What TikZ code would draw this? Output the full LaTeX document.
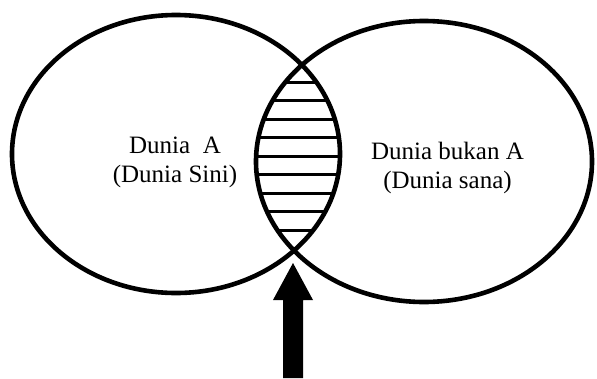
\documentclass[tikz,border=0pt]{standalone}
\usepackage{fontspec}
\setmainfont{Liberation Serif}
\begin{document}
\begin{tikzpicture}[x=1pt,y=-1pt,
  outline/.style={line width=4.6pt,draw=black},
  hatch/.style={line width=3pt,draw=black},
  label/.style={font=\fontsize{25}{29}\selectfont,align=center,inner sep=0pt}]
\useasboundingbox (0,0) rectangle (597,378);
\coordinate (cl) at (176,154);
\coordinate (cr) at (424,161.5);
% hatching in the lens
\begin{scope}
  \clip (cl) ellipse [x radius=164pt, y radius=139pt];
  \clip (cr) ellipse [x radius=168pt, y radius=140.5pt];
  \foreach \yy in {82,100.5,119,137.5,156,174.5,193,211.5,230}
    \draw[hatch] (240,\yy) -- (360,\yy);
\end{scope}
\draw[outline] (cl) ellipse [x radius=164pt, y radius=139pt];
\draw[outline] (cr) ellipse [x radius=168pt, y radius=140.5pt];
\node[label] (ta) at (175,162) {Dunia\ \ A\\(Dunia Sini)};
\node[label] (tb) at (447.5,168) {Dunia bukan A\\(Dunia sana)};
% arrow
\coordinate (tip) at (293,263);
\fill (tip) -- (313,300) -- (303,300) -- (303,378) -- (283,378) -- (283,300) -- (273,300) -- cycle;
\end{tikzpicture}
\end{document}
